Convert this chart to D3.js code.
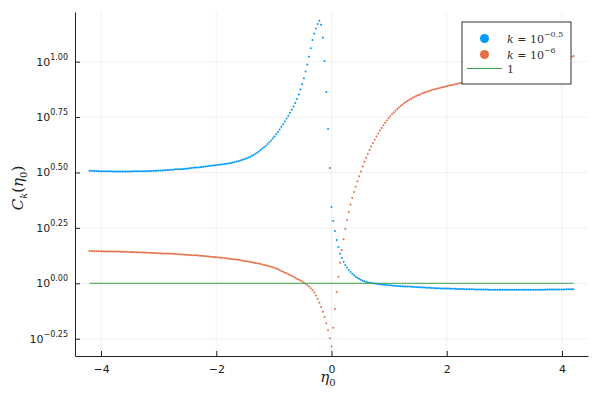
<!DOCTYPE html>
<html><head><meta charset="utf-8">
<script src="https://cdn.jsdelivr.net/npm/d3@7"></script>
<style>body{margin:0;background:#fff}</style>
</head><body><svg id="c" width="600" height="400"></svg>
<script>
// sampling grid of eta_0 (uniform, -4.2 .. 4.2, step 0.03)
const etaStart = -4.2, etaStep = 0.03, etaCount = 281;
const eta = d3.range(etaCount).map(i => Math.round((etaStart + etaStep * i) * 100) / 100);

// log10 C_k(eta_0), k = 10^-0.5
const log10C_k05 = [
0.508,0.508,0.507,0.507,0.507,0.506,0.506,0.506,0.505,0.505,0.505,
0.505,0.505,0.504,0.504,0.504,0.504,0.504,0.504,0.504,0.504,
0.504,0.504,0.504,0.504,0.505,0.505,0.505,0.505,0.505,0.506,
0.506,0.506,0.506,0.507,0.507,0.507,0.508,0.508,0.508,0.509,
0.509,0.509,0.510,0.510,0.511,0.511,0.512,0.512,0.513,0.514,
0.514,0.515,0.515,0.516,0.517,0.517,0.518,0.519,0.520,0.521,
0.522,0.522,0.523,0.524,0.525,0.526,0.527,0.528,0.529,0.530,
0.531,0.532,0.533,0.534,0.535,0.536,0.537,0.538,0.539,0.540,
0.542,0.543,0.545,0.547,0.549,0.551,0.553,0.556,0.558,0.561,
0.564,0.567,0.571,0.575,0.579,0.584,0.589,0.595,0.601,0.608,
0.614,0.621,0.628,0.636,0.644,0.653,0.662,0.672,0.683,
0.694,0.706,0.718,0.730,0.743,0.756,0.769,0.783,0.798,0.814,
0.832,0.852,0.874,0.898,0.925,0.955,0.987,1.022,1.060,1.098,
1.127,1.150,1.170,1.184,1.166,1.108,1.003,0.863,0.696,0.520,
0.344,0.281,0.236,0.195,0.164,0.133,0.114,0.097,0.083,0.071,
0.060,0.051,0.043,0.036,0.030,0.025,0.020,0.016,0.012,0.009,
0.006,0.004,0.002,0.001,0.000,-0.001,-0.002,-0.003,-0.004,-0.005,
-0.006,
-0.007,-0.008,-0.009,-0.009,-0.010,-0.011,-0.011,-0.012,-0.012,-0.013,
-0.013,-0.014,-0.014,-0.015,-0.015,-0.016,-0.016,-0.017,-0.017,-0.018,
-0.018,-0.018,-0.019,-0.019,-0.020,-0.020,-0.020,-0.021,-0.021,-0.022,
-0.022,-0.022,-0.023,-0.023,-0.023,-0.024,-0.024,-0.024,-0.025,-0.025,
-0.025,-0.025,-0.026,-0.026,-0.026,-0.026,-0.027,-0.027,-0.027,-0.027,
-0.027,-0.027,-0.028,-0.028,-0.028,-0.028,-0.028,-0.028,-0.028,-0.028,
-0.029,-0.029,-0.029,-0.029,-0.029,-0.029,-0.029,-0.029,-0.029,-0.029,
-0.029,-0.029,-0.029,-0.029,-0.029,-0.029,-0.029,-0.029,-0.029,-0.029,
-0.029,-0.029,-0.029,-0.029,-0.029,-0.029,-0.029,-0.029,-0.029,-0.029,
-0.029,-0.029,-0.029,-0.028,-0.028,-0.028,-0.028,-0.028,-0.028,-0.028,
-0.028,-0.028,-0.028,-0.028,-0.028,-0.027,-0.027,-0.027,-0.027,-0.027
];

// log10 C_k(eta_0), k = 10^-6
const log10C_k6 = [
0.146,0.146,0.146,0.145,0.145,0.145,0.145,0.145,0.144,0.144,0.144,
0.144,0.144,0.143,0.143,0.143,0.143,0.143,0.142,0.142,0.142,
0.142,0.141,0.141,0.141,0.141,0.140,0.140,0.140,0.139,0.139,
0.139,0.139,0.138,0.138,0.138,0.137,0.137,0.137,0.136,0.136,
0.136,0.135,0.135,0.134,0.134,0.134,0.133,0.133,0.132,0.132,
0.131,0.131,0.130,0.130,0.129,0.129,0.128,0.128,0.127,0.127,
0.126,0.126,0.125,0.124,0.124,0.123,0.122,0.122,0.121,0.120,
0.119,0.119,0.118,0.117,0.116,0.115,0.115,0.114,0.113,0.112,
0.111,0.110,0.109,0.108,0.107,0.106,0.105,0.103,0.102,0.100,
0.099,0.098,0.096,0.095,0.093,0.092,0.090,0.089,0.087,0.085,
0.083,0.081,0.079,0.077,0.075,0.072,0.070,0.067,0.064,
0.060,0.056,0.052,0.048,0.045,0.041,0.037,0.033,0.029,0.025,
0.021,0.017,0.013,0.008,0.003,-0.002,-0.008,-0.014,-0.022,-0.031,
-0.042,-0.055,-0.070,-0.088,-0.107,-0.128,-0.152,-0.180,-0.212,-0.248,
-0.285,-0.200,-0.116,-0.039,0.030,0.093,0.150,0.199,0.245,0.286,
0.322,0.355,0.385,0.412,0.436,0.460,0.483,0.504,0.527,0.548,
0.566,0.584,0.601,0.617,0.633,0.648,0.662,0.676,0.689,0.701,
0.713,0.724,0.735,0.745,0.754,0.763,0.771,0.779,0.786,0.793,
0.800,0.806,0.812,0.818,0.823,0.828,0.833,0.837,0.841,0.845,
0.848,0.851,0.855,0.858,0.861,0.864,0.866,0.869,0.872,0.874,
0.876,0.878,0.880,0.882,0.884,0.886,0.888,0.890,0.892,0.894,
0.895,0.897,0.899,0.900,0.902,0.904,0.905,0.907,
0.909,0.911,0.912,0.914,0.916,0.918,0.919,0.921,0.923,0.925,
0.926,0.928,0.930,0.932,0.933,0.935,0.937,0.939,0.940,0.942,
0.944,0.946,0.947,0.949,0.951,0.953,0.954,0.956,0.958,0.960,
0.961,0.963,0.965,0.967,0.968,0.970,0.972,0.974,0.975,0.977,
0.979,0.981,0.982,0.984,0.986,0.988,0.989,0.991,0.993,0.995,
0.996,0.998,1.000,1.002,1.003,1.005,1.007,1.009,1.012,1.015,
1.018,1.022,1.026
];

const referenceLevel = [1];
const seriesNames = ["−0.5", "−6"];
const seriesColors = ["#009AFA", "#E36F47"];
const lineColor = "#3DA44D";
const xTicks = [-4, -2, 0, 2, 4];
const yTickExps = [-0.25, 0, 0.25, 0.5, 0.75, 1.0];
const yTickLabels = ["−0.25", "0.00", "0.25", "0.50", "0.75", "1.00"];

const svg = d3.select("#c");
const L = 75, R = 588, T = 12, B = 356;
const x = d3.scaleLinear().domain([-4.452, 4.452]).range([L, R]);
const y = d3.scaleLog().domain([Math.pow(10, -0.328), Math.pow(10, 1.224)]).range([B, T]);

svg.append("rect").attr("width", 600).attr("height", 400).attr("fill", "#fff");

// grid
const grid = svg.append("g").attr("stroke", "#000").attr("stroke-opacity", 0.1).attr("stroke-width", 0.6);
grid.selectAll("line.gx").data(xTicks).join("line")
  .attr("x1", d => x(d)).attr("x2", d => x(d)).attr("y1", T).attr("y2", B);
grid.selectAll("line.gy").data(yTickExps).join("line")
  .attr("y1", d => y(Math.pow(10, d))).attr("y2", d => y(Math.pow(10, d))).attr("x1", L).attr("x2", R);

// data points
const series = [log10C_k05, log10C_k6];
series.forEach((vals, si) => {
  svg.append("g").selectAll("circle").data(vals).join("circle")
    .attr("cx", (d, i) => x(eta[i]))
    .attr("cy", d => y(Math.pow(10, d)))
    .attr("r", 1.0)
    .attr("fill", seriesColors[si]);
});

// reference line C = 1
const line = d3.line().x(d => x(d[0])).y(d => y(d[1]));
svg.append("path")
  .attr("d", line([[eta[0], referenceLevel[0]], [eta[eta.length - 1], referenceLevel[0]]]))
  .attr("stroke", lineColor).attr("stroke-width", 1).attr("fill", "none");

// axes
const axisColor = "#222";
const xAxis = svg.append("g").attr("transform", `translate(0,${B})`)
  .call(d3.axisBottom(x).tickValues(xTicks).tickSize(-5).tickSizeOuter(0).tickPadding(9)
    .tickFormat(d => (d < 0 ? "−" : "") + Math.abs(d)));
xAxis.select(".domain").attr("stroke", axisColor);
xAxis.selectAll(".tick line").attr("stroke", axisColor);
xAxis.selectAll(".tick text").attr("font-family", "DejaVu Sans").attr("font-size", 11).attr("fill", "#222");

const yAxis = svg.append("g").attr("transform", `translate(${L},0)`)
  .call(d3.axisLeft(y).tickValues(yTickExps.map(e => Math.pow(10, e))).tickSize(-5).tickSizeOuter(0).tickFormat(""));
yAxis.select(".domain").attr("stroke", axisColor);
yAxis.selectAll(".tick line").attr("stroke", axisColor);
yTickExps.forEach((e, i) => {
  const yy = y(Math.pow(10, e));
  const t = svg.append("text").attr("x", 68).attr("y", yy + 4)
    .attr("text-anchor", "end").attr("font-family", "DejaVu Sans").attr("fill", "#222");
  t.append("tspan").attr("font-size", 11).text("10");
  t.append("tspan").attr("font-size", 8).attr("dy", -6).text(yTickLabels[i]);
});

// axis titles
const xl = svg.append("text").attr("x", 328).attr("y", 382).attr("text-anchor", "middle")
  .attr("font-family", "DejaVu Serif").attr("font-size", 15).attr("fill", "#222");
xl.append("tspan").attr("font-style", "italic").text("η");
xl.append("tspan").attr("font-size", 10).attr("dy", 4).text("0");

const yl = svg.append("text").attr("transform", "translate(23,188) rotate(-90)").attr("text-anchor", "middle")
  .attr("font-family", "DejaVu Serif").attr("font-size", 15).attr("fill", "#222");
yl.append("tspan").attr("font-style", "italic").text("C");
yl.append("tspan").attr("font-style", "italic").attr("font-size", 10).attr("dy", 4).text("k");
yl.append("tspan").attr("dy", -4).text("(");
yl.append("tspan").attr("font-style", "italic").text("η");
yl.append("tspan").attr("font-size", 10).attr("dy", 4).text("0");
yl.append("tspan").attr("dy", -4).text(")");

// legend
const lg = svg.append("g");
lg.append("rect").attr("x", 462).attr("y", 22).attr("width", 109).attr("height", 62)
  .attr("fill", "#fff").attr("stroke", "#333").attr("stroke-width", 1);
seriesNames.forEach((s, i) => {
  const cy = 38.5 + i * 16;
  lg.append("circle").attr("cx", 484.5).attr("cy", cy).attr("r", 4.5).attr("fill", seriesColors[i]);
  const t = lg.append("text").attr("x", 507).attr("y", cy + 4).attr("font-family", "DejaVu Serif")
    .attr("font-size", 11).attr("fill", "#333");
  t.append("tspan").attr("font-style", "italic").text("k");
  t.append("tspan").text(" = 10");
  t.append("tspan").attr("font-size", 8).attr("dy", -6).text(s);
});
lg.append("line").attr("x1", 467).attr("x2", 502).attr("y1", 68.5).attr("y2", 68.5)
  .attr("stroke", lineColor).attr("stroke-width", 1);
lg.append("text").attr("x", 507).attr("y", 72.5).attr("font-family", "DejaVu Serif")
  .attr("font-size", 11).attr("fill", "#333").text(String(referenceLevel[0]));
</script></body></html>
